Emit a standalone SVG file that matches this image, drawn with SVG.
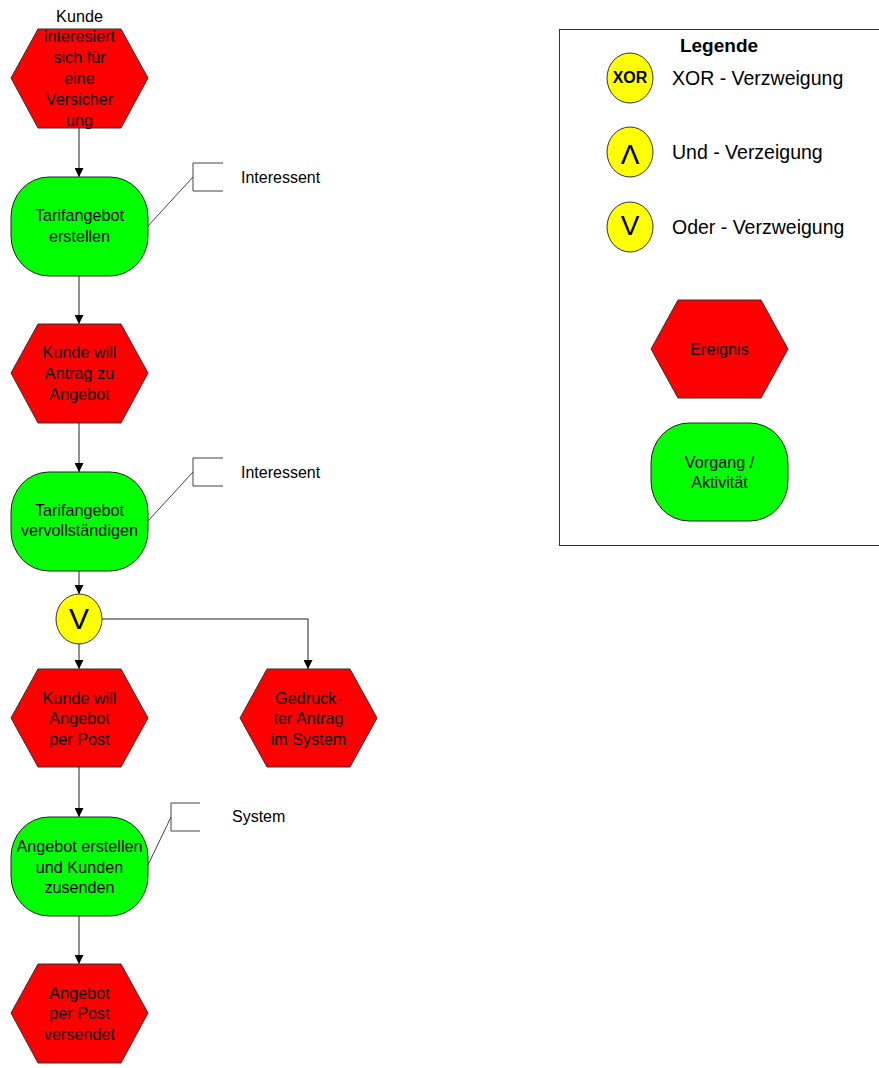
<svg xmlns="http://www.w3.org/2000/svg" width="879" height="1068" viewBox="0 0 879 1068">
  <style>
    .event { fill: #ff0000; stroke: #333; stroke-width: 1; }
    .func { fill: #00ff00; stroke: #222; stroke-width: 1; }
    .gate { fill: #ffff00; stroke: #333; stroke-width: 1; }
    .lbl { font-family: "Liberation Sans", Arial, sans-serif; font-size: 16.2px; fill: #000; text-anchor: middle; }
    .side { font-family: "Liberation Sans", Arial, sans-serif; font-size: 16px; fill: #000; }
    .leg { font-family: "Liberation Sans", Arial, sans-serif; font-size: 19.5px; fill: #000; }
    .edge { fill: none; stroke: #222; stroke-width: 1; }
    .org { fill: none; stroke: #444; stroke-width: 1; }
  </style>
  <defs>
    <marker id="arrow" viewBox="0 0 10 10" refX="10" refY="5" markerWidth="9" markerHeight="9" markerUnits="userSpaceOnUse" orient="auto">
      <path d="M0,0 L10,5 L0,10 Z" fill="#000"/>
    </marker>
  </defs>

  <rect width="879" height="1068" fill="#fff"/>

  <!-- connectors -->
  <g id="connectors">
    <line class="edge" x1="79" y1="128" x2="79" y2="177" marker-end="url(#arrow)"/>
    <line class="edge" x1="79" y1="276" x2="79" y2="324" marker-end="url(#arrow)"/>
    <line class="edge" x1="79" y1="423" x2="79" y2="472" marker-end="url(#arrow)"/>
    <line class="edge" x1="79" y1="571" x2="79" y2="594" marker-end="url(#arrow)"/>
    <line class="edge" x1="79" y1="644" x2="79" y2="669" marker-end="url(#arrow)"/>
    <path class="edge" d="M102,619 H308 V669" marker-end="url(#arrow)"/>
    <line class="edge" x1="79" y1="767" x2="79" y2="817" marker-end="url(#arrow)"/>
    <line class="edge" x1="79" y1="916" x2="79" y2="964" marker-end="url(#arrow)"/>
    <!-- role attachments -->
    <path class="org" d="M223,163 H193 V191 H223"/>
    <line class="org" x1="193" y1="177" x2="148" y2="226"/>
    <path class="org" d="M223,458 H193 V486 H223"/>
    <line class="org" x1="193" y1="472" x2="148" y2="521"/>
    <path class="org" d="M200,803 H171 V831 H200"/>
    <line class="org" x1="171" y1="817" x2="148" y2="865"/>
  </g>

  <!-- process nodes -->
  <g id="ev-interesse">
    <polygon class="event" points="11,78 38,29 121,29 148,78 121,128 38,128"/>
    <text class="lbl" x="79.5" y="21.5">Kunde</text>
    <text class="lbl" x="79.5" y="41.5">interesiert</text>
    <text class="lbl" x="79.5" y="62.5">sich für</text>
    <text class="lbl" x="79.5" y="83.5">eine</text>
    <text class="lbl" x="79.5" y="104.5">Versicher</text>
    <text class="lbl" x="79.5" y="125.5">ung</text>
  </g>

  <g id="fn-tarif-erstellen">
    <rect class="func" x="11" y="177" width="137" height="99" rx="38" ry="40"/>
    <text class="lbl" x="79.5" y="220.5">Tarifangebot</text>
    <text class="lbl" x="79.5" y="241.5">erstellen</text>
  </g>

  <g id="role-1">
    <text class="side" x="241" y="182.5">Interessent</text>
  </g>

  <g id="ev-antrag">
    <polygon class="event" points="11,373 38,324 121,324 148,373 121,423 38,423"/>
    <text class="lbl" x="79.5" y="357.5">Kunde will</text>
    <text class="lbl" x="79.5" y="378.5">Antrag zu</text>
    <text class="lbl" x="79.5" y="399.5">Angebot</text>
  </g>

  <g id="fn-tarif-vervollst">
    <rect class="func" x="11" y="472" width="137" height="99" rx="38" ry="40"/>
    <text class="lbl" x="79.5" y="515.5">Tarifangebot</text>
    <text class="lbl" x="79.5" y="535.5">vervollständigen</text>
  </g>

  <g id="role-2">
    <text class="side" x="241" y="477.5">Interessent</text>
  </g>

  <g id="gate-or">
    <ellipse class="gate" cx="79" cy="619" rx="23" ry="25"/>
    <text class="lbl" x="79" y="629" style="font-size:30px">V</text>
  </g>

  <g id="ev-post">
    <polygon class="event" points="11,718 38,669 121,669 148,718 121,767 38,767"/>
    <text class="lbl" x="79.5" y="703.5">Kunde will</text>
    <text class="lbl" x="79.5" y="723.5">Angebot</text>
    <text class="lbl" x="79.5" y="744.5">per Post</text>
  </g>

  <g id="ev-gedruckt">
    <polygon class="event" points="240,718 267,669 350,669 377,718 350,767 267,767"/>
    <text class="lbl" x="308.5" y="703.5">Gedruck-</text>
    <text class="lbl" x="308.5" y="723.5">ter Antrag</text>
    <text class="lbl" x="308.5" y="744.5">im System</text>
  </g>

  <g id="fn-angebot-senden">
    <rect class="func" x="11" y="817" width="137" height="99" rx="38" ry="40"/>
    <text class="lbl" x="79.5" y="851.5">Angebot erstellen</text>
    <text class="lbl" x="79.5" y="872.5">und Kunden</text>
    <text class="lbl" x="79.5" y="892.5">zusenden</text>
  </g>

  <g id="role-3">
    <text class="side" x="232" y="821.5">System</text>
  </g>

  <g id="ev-versendet">
    <polygon class="event" points="11,1013 38,964 121,964 148,1013 121,1063 38,1063"/>
    <text class="lbl" x="79.5" y="998.5">Angebot</text>
    <text class="lbl" x="79.5" y="1018.5">per Post</text>
    <text class="lbl" x="79.5" y="1039.5">versendet</text>
  </g>

  <!-- legend -->
  <g id="legend">
    <rect x="559.5" y="29.5" width="330" height="516" fill="#fff" stroke="#333" stroke-width="1"/>
    <text class="leg" x="719" y="52" text-anchor="middle" style="font-weight:bold;font-size:19px">Legende</text>

    <ellipse class="gate" cx="630" cy="78" rx="23" ry="25"/>
    <text class="lbl" x="630" y="83" style="font-weight:bold;font-size:16px">XOR</text>
    <text class="leg" x="672" y="85">XOR - Verzweigung</text>

    <ellipse class="gate" cx="630" cy="152" rx="23" ry="25"/>
    <text class="lbl" x="630" y="164" style="font-size:28px">Λ</text>
    <text class="leg" x="672" y="159">Und - Verzeigung</text>

    <ellipse class="gate" cx="630" cy="227" rx="23" ry="25"/>
    <text class="lbl" x="630" y="235" style="font-size:28px">V</text>
    <text class="leg" x="672" y="234">Oder - Verzweigung</text>

    <polygon class="event" points="651,349 678,300 761,300 788,349 761,398 678,398"/>
    <text class="lbl" x="719.5" y="354.5">Ereignis</text>

    <rect class="func" x="651" y="423" width="137" height="98" rx="38" ry="40"/>
    <text class="lbl" x="719.5" y="467.5">Vorgang /</text>
    <text class="lbl" x="719.5" y="487.5">Aktivität</text>
  </g>
</svg>
